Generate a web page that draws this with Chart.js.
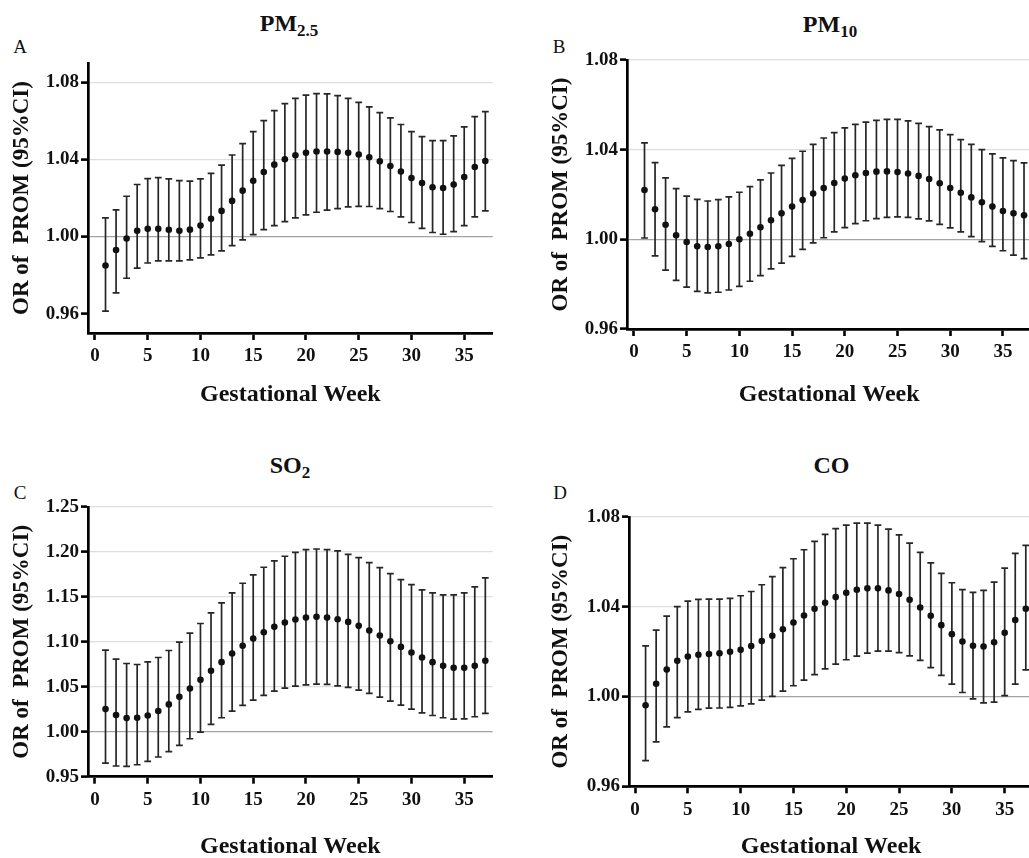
<!DOCTYPE html>
<html>
<head>
<meta charset="utf-8">
<script src="https://cdn.jsdelivr.net/npm/chart.js@4.4.0/dist/chart.umd.min.js"></script>
<style>
html,body{margin:0;padding:0;background:#fff;overflow:hidden;width:1029px;height:858px;position:relative;}
canvas{position:absolute;}
.ttl{position:absolute;font-family:"Liberation Serif","Times New Roman",serif;font-weight:bold;font-size:24px;line-height:1;white-space:nowrap;transform:translateX(-50%);color:#111;}
.ttl span{font-size:17px;position:relative;top:0.32em;}
.lt{position:absolute;font-family:"Liberation Serif","Times New Roman",serif;font-size:19px;line-height:1;transform:translateX(-50%);color:#111;}
</style>
</head>
<body>
<div class="ttl" style="left:289px;top:11px;">PM<span>2.5</span></div>
<div class="ttl" style="left:830px;top:11.5px;">PM<span>10</span></div>
<div class="ttl" style="left:290px;top:453px;">SO<span>2</span></div>
<div class="ttl" style="left:831.5px;top:452.5px;">CO</div>
<div class="lt" style="left:20px;top:36.5px;">A</div>
<div class="lt" style="left:559px;top:36.5px;">B</div>
<div class="lt" style="left:20px;top:483px;">C</div>
<div class="lt" style="left:560px;top:483px;">D</div>
<canvas id="cA" width="514" height="420" style="left:0;top:0;"></canvas>
<canvas id="cB" width="530" height="420" style="left:514px;top:0;"></canvas>
<canvas id="cC" width="514" height="438" style="left:0;top:420px;"></canvas>
<canvas id="cD" width="530" height="438" style="left:514px;top:420px;"></canvas>
<script>
// ---- data ----
const weeks = [1,2,3,4,5,6,7,8,9,10,11,12,13,14,15,16,17,18,19,20,21,22,23,24,25,26,27,28,29,30,31,32,33,34,35,36,37];
const xTickVals = [0,5,10,15,20,25,30,35];
const yTicksPM25 = [0.96,1.00,1.04,1.08];
const yTicksPM10 = [0.96,1.00,1.04,1.08];
const yTicksSO2 = [0.95,1.00,1.05,1.10,1.15,1.20,1.25];
const yTicksCO = [0.96,1.00,1.04,1.08];

const pm25_or = [0.985,0.993,0.999,1.003,1.004,1.004,1.0035,1.003,1.0036,1.0057,1.0092,1.0133,1.0185,1.0238,1.0289,1.0335,1.0373,1.0401,1.0422,1.0434,1.0441,1.0441,1.0439,1.0434,1.0425,1.0411,1.039,1.0366,1.0337,1.0304,1.0278,1.0256,1.0252,1.027,1.0309,1.0361,1.0392];
const pm25_lo = [0.9613,0.9708,0.9784,0.9836,0.9863,0.9874,0.9874,0.9874,0.9879,0.989,0.9905,0.9926,0.9953,0.9983,1.001,1.0036,1.0057,1.0078,1.0097,1.0112,1.0126,1.0137,1.0145,1.0154,1.0157,1.0156,1.0145,1.013,1.0102,1.0073,1.0043,1.0021,1.0012,1.0026,1.0057,1.0102,1.0133];
const pm25_hi = [1.0097,1.0138,1.0209,1.027,1.030,1.0306,1.0299,1.029,1.0287,1.0299,1.0328,1.037,1.0423,1.0482,1.0544,1.0601,1.0653,1.0689,1.0717,1.0733,1.0741,1.074,1.0731,1.0717,1.0696,1.0672,1.0643,1.0615,1.0581,1.0544,1.0518,1.0498,1.0498,1.0522,1.0569,1.0622,1.0648];

const pm10_or = [1.022,1.0134,1.0065,1.0018,0.9988,0.9969,0.9966,0.9969,0.9979,1.000,1.0025,1.0054,1.0085,1.0116,1.0146,1.0175,1.0204,1.0229,1.0251,1.0271,1.0286,1.0296,1.0302,1.0303,1.030,1.0294,1.0283,1.0269,1.025,1.0229,1.0208,1.0187,1.0165,1.0146,1.0126,1.0116,1.0107];
const pm10_lo = [1.0006,0.9926,0.9863,0.9817,0.9787,0.9768,0.9761,0.9764,0.9774,0.979,0.9813,0.9838,0.9868,0.9894,0.9924,0.9955,0.9984,1.0007,1.0033,1.0052,1.007,1.0083,1.0092,1.0098,1.010,1.0098,1.0091,1.0082,1.0067,1.0051,1.0033,1.0012,0.999,0.9969,0.9949,0.993,0.9914];
const pm10_hi = [1.043,1.0342,1.0274,1.0226,1.0193,1.0178,1.0171,1.0177,1.0189,1.021,1.0235,1.0265,1.0296,1.033,1.0361,1.0393,1.0424,1.0452,1.0476,1.0497,1.0513,1.0523,1.0531,1.0535,1.0535,1.0528,1.0517,1.0503,1.0488,1.0467,1.0445,1.0424,1.040,1.0381,1.0363,1.0351,1.0341];

const so2_or = [1.0252,1.0185,1.0152,1.0156,1.0181,1.023,1.0304,1.0389,1.0481,1.0578,1.0678,1.0774,1.087,1.0956,1.1037,1.1107,1.1167,1.1215,1.1248,1.127,1.1278,1.127,1.1252,1.1222,1.1178,1.1126,1.107,1.1007,1.0944,1.0881,1.0826,1.0774,1.0733,1.0711,1.0711,1.0733,1.0789];
const so2_lo = [0.9652,0.9619,0.9615,0.9633,0.967,0.9719,0.9778,0.9848,0.9922,0.9996,1.0081,1.0156,1.023,1.0293,1.0352,1.0404,1.0452,1.0485,1.0507,1.0522,1.053,1.0526,1.0511,1.0493,1.0463,1.0426,1.0385,1.0341,1.0296,1.0252,1.0211,1.0181,1.0156,1.0141,1.0144,1.0167,1.0204];
const so2_hi = [1.0907,1.0807,1.0759,1.0748,1.0778,1.0826,1.0904,1.0996,1.1096,1.1204,1.1322,1.1433,1.1544,1.1652,1.1744,1.183,1.190,1.1952,1.1996,1.2026,1.2033,1.2026,1.2011,1.1974,1.1937,1.1881,1.1826,1.1759,1.1693,1.1637,1.1578,1.1544,1.1522,1.1522,1.1544,1.1611,1.1711];

const co_or = [0.9961,1.0057,1.012,1.0159,1.0178,1.0186,1.0189,1.0193,1.0199,1.0208,1.0225,1.0247,1.0271,1.030,1.033,1.0361,1.0391,1.0418,1.0443,1.0462,1.0476,1.0482,1.0482,1.0473,1.0457,1.0431,1.0397,1.036,1.0318,1.0278,1.0245,1.0226,1.0223,1.0242,1.0284,1.0341,1.0391];
const co_lo = [0.9714,0.9798,0.9865,0.9906,0.9932,0.9943,0.9948,0.9949,0.9952,0.9958,0.9967,0.9984,1.0001,1.0024,1.0048,1.0073,1.0098,1.0123,1.0144,1.0164,1.018,1.0193,1.0202,1.0202,1.0196,1.0181,1.0161,1.0129,1.0094,1.0055,1.0018,0.999,0.9972,0.9975,1.0004,1.0055,1.0119];
const co_hi = [1.0226,1.0296,1.0358,1.0401,1.0425,1.0433,1.0434,1.0434,1.0437,1.0449,1.0468,1.0498,1.0534,1.0574,1.0614,1.0654,1.0691,1.0723,1.0748,1.0764,1.0773,1.0773,1.0764,1.0746,1.072,1.0684,1.0642,1.0596,1.0549,1.0507,1.0476,1.0464,1.0473,1.051,1.0572,1.0638,1.0674];

const yTitle = 'OR of  PROM (95%CI)';
const xTitle = 'Gestational Week';

// ---- layout ----
const panels = [
  {id:'cA', or:pm25_or, lo:pm25_lo, hi:pm25_hi, yTicks:yTicksPM25, yMin:0.95, yMax:1.09,
   yAxisW:88, padTop:63, padRight:21.3, xH:87, xMin:-0.66, xMax:37.7, yTitleC:22, xTitleC:25},
  {id:'cB', or:pm10_or, lo:pm10_lo, hi:pm10_hi, yTicks:yTicksPM10, yMin:0.96, yMax:1.08,
   yAxisW:113, padTop:60, padRight:12.6, xH:91, xMin:-0.66, xMax:37.7, yTitleC:46.7, xTitleC:25},
  {id:'cC', or:so2_or, lo:so2_lo, hi:so2_hi, yTicks:yTicksSO2, yMin:0.95, yMax:1.25,
   yAxisW:88, padTop:87, padRight:21.3, xH:81.3, xMin:-0.66, xMax:37.7, yTitleC:21.7, xTitleC:11.5},
  {id:'cD', or:co_or, lo:co_lo, hi:co_hi, yTicks:yTicksCO, yMin:0.96, yMax:1.08,
   yAxisW:115, padTop:97, padRight:10.8, xH:71.7, xMin:-0.57, xMax:37.7, yTitleC:46.7, xTitleC:11.5}
];

const SERIF = "'Liberation Serif','Times New Roman',serif";

const errorBars = {
  id: 'errorBars',
  beforeDatasetsDraw(chart) {
    const {ctx} = chart;
    const xs = chart.scales.x, ys = chart.scales.y;
    const ds = chart.data.datasets[0];
    ctx.save();
    ctx.strokeStyle = '#262626';
    ctx.lineWidth = 1.7;
    ctx.lineCap = 'butt';
    ds.data.forEach((p, i) => {
      const px = xs.getPixelForValue(p.x);
      const yl = ys.getPixelForValue(ds.lo[i]);
      const yh = ys.getPixelForValue(ds.hi[i]);
      ctx.beginPath();
      ctx.moveTo(px, yl); ctx.lineTo(px, yh);
      ctx.moveTo(px - 3.4, yl); ctx.lineTo(px + 3.4, yl);
      ctx.moveTo(px - 3.4, yh); ctx.lineTo(px + 3.4, yh);
      ctx.stroke();
    });
    ctx.restore();
  }
};

panels.forEach(P => {
  const data = weeks.map((w, i) => ({x: w, y: P.or[i]}));
  new Chart(document.getElementById(P.id), {
    type: 'scatter',
    data: {datasets: [{data, lo: P.lo, hi: P.hi, pointRadius: 3.3, pointHoverRadius: 3.3,
      pointBackgroundColor: '#111', pointBorderWidth: 0, showLine: false}]},
    options: {
      responsive: false, animation: false, devicePixelRatio: 1,
      layout: {padding: {top: P.padTop, right: P.padRight, bottom: 0, left: 0}},
      plugins: {legend: {display: false}, tooltip: {enabled: false}, title: {display: false}},
      scales: {
        x: {
          type: 'linear', min: P.xMin, max: P.xMax,
          afterBuildTicks: s => { s.ticks = xTickVals.map(v => ({value: v})); },
          afterFit: s => { s.height = P.xH; },
          grid: {drawOnChartArea: false, drawTicks: true, tickLength: 7, tickWidth: 2.6, tickColor: '#000'},
          border: {display: true, color: '#000', width: 2.7},
          ticks: {color: '#111', padding: 7, font: {family: SERIF, weight: 'bold', size: 19, lineHeight: 1},
            callback: v => String(v), maxRotation: 0, autoSkip: false},
          title: {display: true, text: xTitle, color: '#111',
            font: {family: SERIF, weight: 'bold', size: 24, lineHeight: 1},
            padding: {top: 0, bottom: P.xTitleC - 12}}
        },
        y: {
          type: 'linear', min: P.yMin, max: P.yMax,
          afterBuildTicks: s => { s.ticks = P.yTicks.map(v => ({value: v})); },
          afterFit: s => { s.width = P.yAxisW; },
          grid: {drawOnChartArea: true, drawTicks: true, tickLength: 7, tickWidth: 2.6, tickColor: '#000',
            lineWidth: 1.2,
            color: c => {
              const v = c.tick ? c.tick.value : 0;
              if (Math.abs(v - 1) < 1e-9) return '#a3a3a3';
              if (v > 1) return '#dedede';
              return 'rgba(0,0,0,0)';
            }},
          border: {display: true, color: '#000', width: 2.7},
          ticks: {color: '#111', padding: 2, font: {family: SERIF, weight: 'bold', size: 19, lineHeight: 1},
            callback: v => Number(v).toFixed(2), autoSkip: false},
          title: {display: true, text: yTitle, color: '#111',
            font: {family: SERIF, weight: 'bold', size: 23, lineHeight: 1},
            padding: {top: P.yTitleC - 11.5, bottom: 0}}
        }
      }
    },
    plugins: [errorBars]
  });
});
</script>
</body>
</html>
